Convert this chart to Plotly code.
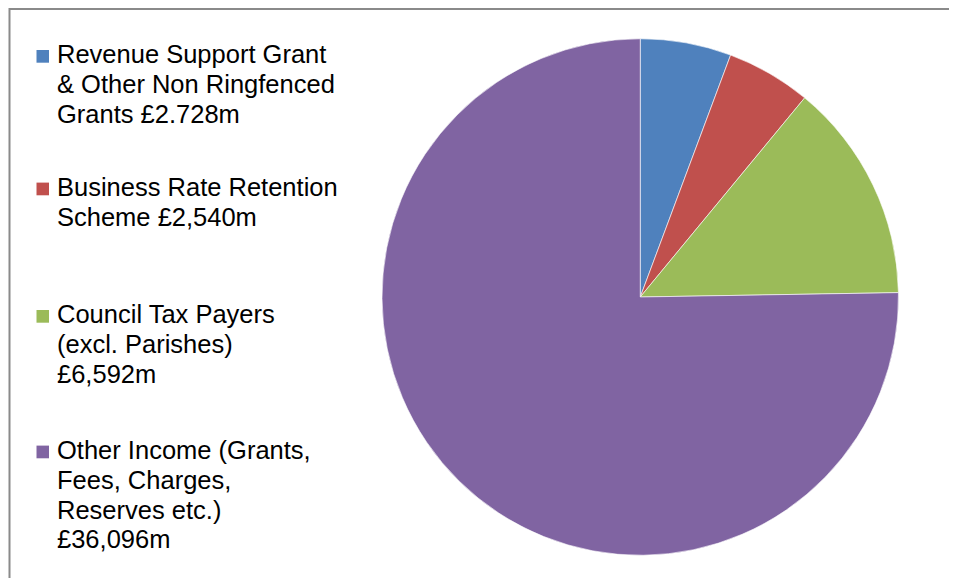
import plotly.graph_objects as go

# page is rendered with an 8px body margin; size the figure to fit the window
OFF = 8
W, H = 957 - OFF, 578 - OFF


def px(x):
    return (x - OFF) / W


def py(y):
    return 1 - (y - OFF) / H


categories = [
    "Revenue Support Grant & Other Non Ringfenced Grants",
    "Business Rate Retention Scheme",
    "Council Tax Payers (excl. Parishes)",
    "Other Income (Grants, Fees, Charges, Reserves etc.)",
]
legend_lines = [
    ["Revenue Support Grant", "& Other Non Ringfenced", "Grants £2.728m"],
    ["Business Rate Retention", "Scheme £2,540m"],
    ["Council Tax Payers", "(excl. Parishes)", "£6,592m"],
    ["Other Income (Grants,", "Fees, Charges,", "Reserves etc.)", "£36,096m"],
]
values = [2728, 2540, 6592, 36096]
colors = ["#4F81BD", "#C0504D", "#9BBB59", "#8064A2"]

# cap-top of first legend line for each entry (page px) and line pitch
legend_tops = [46.7, 179.3, 306.7, 442.3]
LINE = 29.8
FS = 25.5

fig = go.Figure()
fig.add_trace(go.Pie(
    labels=categories,
    values=values,
    marker=dict(colors=colors, line=dict(color="white", width=0.6)),
    sort=False,
    direction="clockwise",
    rotation=0,
    textinfo="none",
    showlegend=False,
    domain=dict(x=[px(382), px(898.5)], y=[py(556), py(38)]),
))

shapes = [
    dict(type="rect", xref="paper", yref="paper",
         x0=px(9.5), x1=1.05, y0=-0.05, y1=1 - 1 / H,
         line=dict(color="#8A8A8A", width=2), fillcolor="rgba(0,0,0,0)", layer="below"),
]
annotations = []
for lines, col, top in zip(legend_lines, colors, legend_tops):
    shapes.append(dict(type="rect", xref="paper", yref="paper",
                       x0=px(36.5), x1=px(49), y0=py(top + 16), y1=py(top + 3.3),
                       line=dict(width=0), fillcolor=col))
    for i, ln in enumerate(lines):
        cap_top = top + i * LINE
        annotations.append(dict(xref="paper", yref="paper", x=px(54.5), y=py(cap_top - 8.3),
                                xanchor="left", yanchor="top", align="left", showarrow=False,
                                text=ln,
                                font=dict(family="Liberation Sans, Arial", size=FS, color="#000000")))

fig.update_layout(
    width=W, height=H,
    margin=dict(l=0, r=0, t=0, b=0),
    paper_bgcolor="white", plot_bgcolor="white",
    shapes=shapes, annotations=annotations,
)

fig.write_html("out.html")
